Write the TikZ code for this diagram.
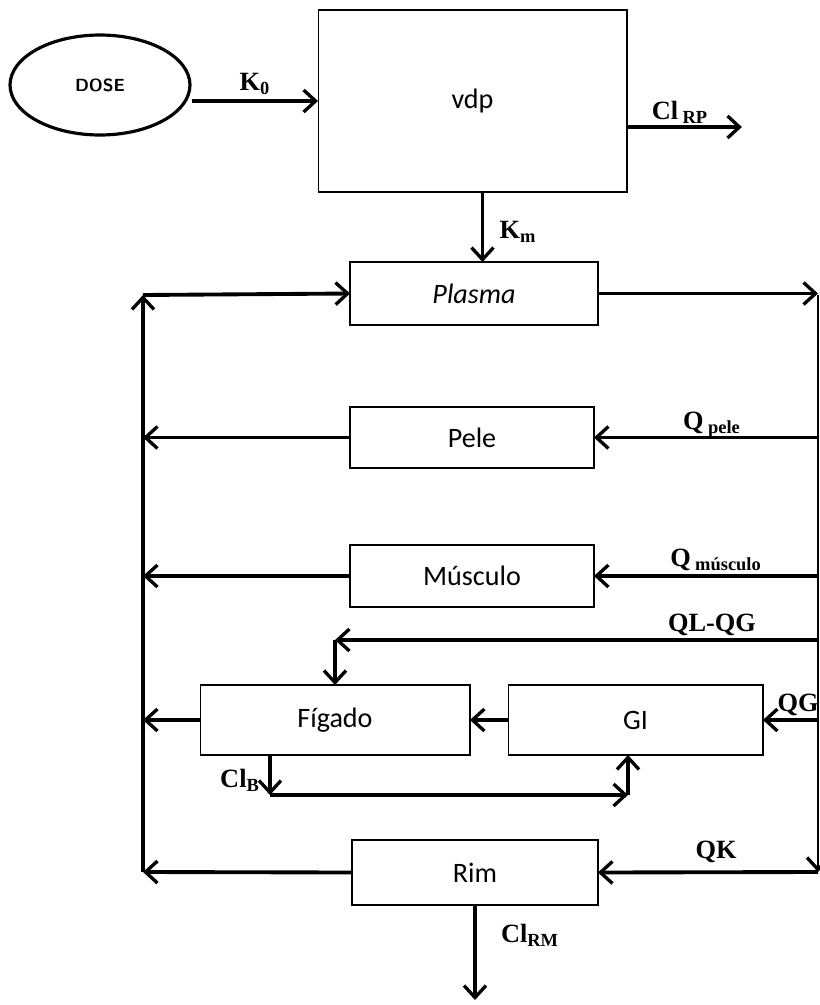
\documentclass[tikz,border=0pt]{standalone}
\usepackage{fontspec}
\setmainfont{Liberation Serif}
\newfontfamily\boxfont{Carlito}
\usetikzlibrary{arrows.meta,shapes.geometric}

\tikzset{
  comp/.style={draw, line width=0.6pt, inner sep=0pt, outer sep=0pt,
    font=\boxfont\fontsize{16}{18}\selectfont},
  flow/.style={line width=2.2pt, -{Straight Barb[length=2.4mm,width=4.4mm,line width=1.9pt]}},
  lbl/.style={font=\bfseries\fontsize{15}{17}\selectfont, inner sep=1pt}
}

\begin{document}
\begin{tikzpicture}[x=0.02cm,y=-0.02cm]
\useasboundingbox (0,0) rectangle (819,1005);

% compartments
\node[draw, ellipse, line width=1.8pt, minimum width=3.6cm, minimum height=2cm,
  font=\sffamily\bfseries\fontsize{10}{12}\selectfont] (dose) at (100,85) {DOSE};
\node[comp, minimum width=6.18cm, minimum height=3.64cm] (vdp) at (472.5,101) {vdp};
\node[comp, minimum width=4.96cm, minimum height=1.26cm] (plasma) at (474,293.5) {\itshape Plasma};
\node[comp, minimum width=4.88cm, minimum height=1.22cm] (pele) at (472,437.5) {Pele};
\node[comp, minimum width=4.88cm, minimum height=1.24cm] (musculo) at (472,576) {Músculo};
\node[comp, minimum width=5.4cm, minimum height=1.4cm] (figado) at (335,720) {Fígado};
\node[comp, minimum width=5.1cm, minimum height=1.4cm] (gi) at (635.5,720) {GI};
\node[comp, minimum width=4.92cm, minimum height=1.3cm] (rim) at (475,872.5) {Rim};

% corners of the circulation
\coordinate (rtop) at (818,295);
\coordinate (rbot) at (818,872);
\coordinate (ltop) at (143,295);
\coordinate (lbot) at (143,872);
\coordinate (qlq) at (818,640);
\coordinate (fcorner) at (335,640);
\coordinate (clb) at (270,795);
\coordinate (gib) at (628,795);

% dose and vdp
\draw[flow] (dose.east |- vdp.west) -- (vdp.west);
\draw[flow] ([yshift=-0.52cm]vdp.east) -- ++(115,0);
\draw[flow] ([xshift=0.2cm]vdp.south) -- ([xshift=0.2cm]vdp.south |- plasma.north);

% arterial side
\draw[flow] (plasma.east) -- (plasma.east -| rtop);
\draw[line width=1.2pt, -{Straight Barb[length=2.4mm,width=4.4mm,line width=1.9pt]}] (rtop) -- (rbot);
\draw[flow] (pele.east -| rtop) -- (pele.east);
\draw[flow] (musculo.east -| rtop) -- (musculo.east);
\draw[flow] (qlq) -- (fcorner);
\draw[flow] (fcorner) -- (figado.north);
\draw[flow] (gi.east -| rtop) -- (gi.east);
\draw[flow] (rbot) -- (rim.east);

% liver and gut
\draw[flow] (gi.west) -- (figado.east);
\draw[flow] ([xshift=-1.3cm]figado.south) -- (clb);
\draw[flow] (clb) -- (gib);
\draw[flow] (gib) -- (gib |- gi.south);
\draw[flow] (rim.south) -- ++(0,95);

% venous side
\draw[flow] (pele.west) -- (pele.west -| ltop);
\draw[flow] (musculo.west) -- (musculo.west -| ltop);
\draw[flow] (figado.west) -- (figado.west -| ltop);
\draw[flow] (rim.west) -- (lbot);
\draw[flow] (lbot) -- (ltop);
\draw[flow] (ltop) -- (plasma.west);

% labels
\node[lbl] (lk0) at (255,84) {K\textsubscript{0}};
\node[lbl] (lclrp) at (680,112) {Cl\,\textsubscript{RP}};
\node[lbl] (lkm) at (518,232) {K\textsubscript{m}};
\node[lbl] (lqpele) at (712,425) {Q\,\textsubscript{pele}};
\node[lbl] (lqmus) at (716,560) {Q\,\textsubscript{músculo}};
\node[lbl] (lqlqg) at (712,625) {QL-QG};
\node[lbl] (lqg) at (798,705) {QG};
\node[lbl] (lclb) at (240,780) {Cl\textsubscript{B}};
\node[lbl] (lqk) at (716,852) {QK};
\node[lbl] (lclrm) at (530,935) {Cl\textsubscript{RM}};
\end{tikzpicture}
\end{document}
